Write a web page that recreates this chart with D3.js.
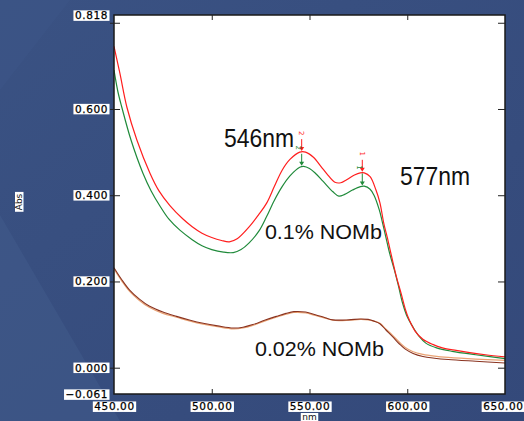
<!DOCTYPE html>
<html><head><meta charset="utf-8">
<script src="https://cdn.jsdelivr.net/npm/d3@7"></script>
<style>
html,body{margin:0;padding:0;background:#38507f;}
svg{display:block;}
</style></head>
<body>
<svg id="chart" width="524" height="421"></svg>
<script>
// ---- data ----
const redNm   = [450,453,456.6,461.7,468.4,473,478.6,485,490,495,500,505,509,513,519,524,528,532,536,540,545,548,552,556,559,563,566,569,573,576,578,581,584,586,588,590,592,594.5,597,599,601,604,608,613,618,625,632,640,650];
const redAbs  = [0.745,0.683,0.604,0.528,0.451,0.410,0.376,0.346,0.327,0.312,0.302,0.295,0.292,0.299,0.326,0.355,0.381,0.420,0.458,0.483,0.500,0.500,0.488,0.466,0.449,0.430,0.429,0.436,0.447,0.452,0.452,0.443,0.412,0.383,0.335,0.298,0.258,0.210,0.170,0.136,0.111,0.085,0.066,0.054,0.046,0.040,0.035,0.030,0.025];
const greenNm = [450,452,454,458.7,464.8,469,473.5,478,483.7,490,495,500,506,511,515,519,524,528,532,536,540,545,547,550,553,557,562,565,568,572,576,578,581,583,585.7,587,589,591,593.4,595.5,597.6,600,602.7,606,609.5,615,623,635,650];
const greenAbs= [0.690,0.640,0.604,0.528,0.451,0.410,0.375,0.345,0.319,0.297,0.283,0.274,0.268,0.267,0.274,0.289,0.316,0.350,0.388,0.420,0.445,0.465,0.467,0.462,0.451,0.432,0.408,0.398,0.402,0.412,0.420,0.421,0.414,0.400,0.366,0.343,0.304,0.265,0.227,0.190,0.150,0.118,0.096,0.073,0.057,0.046,0.038,0.030,0.021];
const lowNm   = [450,454,458,463,468,475,482,489,495.6,503,511,516,521,527,533,538,542,548,553,558,562,570,576,580,583,586,589,592.5,596,599,603,608,614,621,635,650];
const brownAbs= [0.232,0.204,0.180,0.159,0.143,0.129,0.119,0.110,0.103,0.097,0.092,0.094,0.100,0.110,0.119,0.126,0.130,0.129,0.123,0.116,0.111,0.111,0.113,0.112,0.108,0.102,0.088,0.072,0.055,0.043,0.033,0.026,0.022,0.019,0.015,0.011];
const tanAbs  = [0.229,0.201,0.177,0.156,0.140,0.126,0.117,0.108,0.101,0.095,0.090,0.092,0.098,0.108,0.117,0.124,0.128,0.127,0.121,0.115,0.110,0.110,0.112,0.111,0.108,0.103,0.090,0.075,0.059,0.047,0.037,0.031,0.027,0.024,0.020,0.017];
const yTickVals = [-0.061,0,0.2,0.4,0.6,0.8,0.818];
const xTickVals = [450,500,550,600,650];
const peakNm = [577,546];
const peakLabels = ["1","2"];
const annotations = [
  {text:"546nm", nm:506.3, v:0.512, size:26, len:70},
  {text:"577nm", nm:596.3, v:0.424, size:25, len:70},
  {text:"0.1% NOMb", nm:527.2, v:0.299, size:21, len:117},
  {text:"0.02% NOMb", nm:522.1, v:0.028, size:21, len:129}
];

// ---- layout ----
const W=524,H=421;
const svg=d3.select("#chart");
const xs=d3.scaleLinear().domain([450,650]).range([114,505]);
const ys=d3.scaleLinear().domain([-0.061,0.818]).range([394,15]);

// background
const defs=svg.append("defs");
const grad=defs.append("linearGradient").attr("id","bg").attr("x1","0").attr("y1","0").attr("x2","1").attr("y2","1");
grad.append("stop").attr("offset","0").attr("stop-color","#3a5283");
grad.append("stop").attr("offset","1").attr("stop-color","#34497a");
svg.append("rect").attr("width",W).attr("height",H).attr("fill","url(#bg)");
svg.append("path").attr("d","M0,215 L120,421 L0,421 Z").attr("fill","#425b8c").attr("opacity",0.5);
svg.append("path").attr("d","M0,0 L70,0 L0,90 Z").attr("fill","#3f578a").attr("opacity",0.4);

// plot area
svg.append("rect").attr("x",xs(450)).attr("y",ys(0.818)).attr("width",xs(650)-xs(450)).attr("height",ys(-0.061)-ys(0.818))
  .attr("fill","#ffffff");

// lines
const lineOf=(nms,vs)=>d3.line().x((d,i)=>xs(nms[i])).y(d=>ys(d)).curve(d3.curveCatmullRom.alpha(0.5))(vs);
const plot=svg.append("g");
plot.append("path").attr("d",lineOf(lowNm,tanAbs)).attr("fill","none").attr("stroke","#e9a273").attr("stroke-width",1.2);
plot.append("path").attr("d",lineOf(lowNm,brownAbs)).attr("fill","none").attr("stroke","#8a3320").attr("stroke-width",1.1);
plot.append("path").attr("d",lineOf(greenNm,greenAbs)).attr("fill","none").attr("stroke","#1f8a3a").attr("stroke-width",1.2);
plot.append("path").attr("d",lineOf(redNm,redAbs)).attr("fill","none").attr("stroke","#ff1e1e").attr("stroke-width",1.2);

// peak markers
const interp=(nms,vs,n)=>{for(let i=1;i<nms.length;i++){if(nms[i]>=n){const t=(n-nms[i-1])/(nms[i]-nms[i-1]);return vs[i-1]+t*(vs[i]-vs[i-1]);}}return vs[vs.length-1];};
[[redNm,redAbs,"#ff1e1e",0],[greenNm,greenAbs,"#1f8a3a",-3]].forEach(([nms,vs,c,dx])=>{
  peakNm.forEach((n,k)=>{
    const px=xs(n), py=ys(interp(nms,vs,n));
    plot.append("line").attr("x1",px).attr("x2",px).attr("y1",py-13).attr("y2",py-3).attr("stroke",c).attr("stroke-width",1);
    plot.append("path").attr("d",`M${px-2.5},${py-5} L${px+2.5},${py-5} L${px},${py-1} Z`).attr("fill",c);
    plot.append("text").attr("transform",`translate(${px+dx},${py-19}) rotate(90)`).attr("text-anchor","middle").attr("dy","0.35em")
      .attr("font-family","DejaVu Sans").attr("font-size",7).attr("fill",c).text(peakLabels[k]);
  });
});

// frame
svg.append("rect").attr("x",xs(450)).attr("y",ys(0.818)).attr("width",xs(650)-xs(450)).attr("height",ys(-0.061)-ys(0.818))
  .attr("fill","none").attr("stroke","#1a1a1a").attr("stroke-width",1.5);

// annotations
annotations.forEach(a=>{
  svg.append("text").attr("x",xs(a.nm)).attr("y",ys(a.v)).attr("font-family","Liberation Sans, Arial, sans-serif")
    .attr("font-size",a.size).attr("fill","#111").attr("textLength",a.len).attr("lengthAdjust","spacingAndGlyphs").text(a.text);
});

// axes
const fmtY=d=> d===0.8?"": (d<0? "\u2212"+d3.format(".3f")(-d) : d3.format(".3f")(d));
const axLeft=svg.append("g").attr("transform",`translate(${xs(450)},0)`)
  .call(d3.axisLeft(ys).tickValues(yTickVals).tickSize(4).tickPadding(2).tickFormat(fmtY));
axLeft.select(".domain").remove();
axLeft.selectAll(".tick").each(function(d){
  const t=d3.select(this);
  if(d===-0.061||d===0.818) t.select("line").remove();
  else t.select("line").attr("x1",-4).attr("x2",6).attr("stroke","#222");
});
axLeft.selectAll(".tick").filter(d=>d===0.818).attr("transform",`translate(0,${ys(0.818)+1})`);
axLeft.selectAll(".tick").filter(d=>d===-0.061).attr("transform",`translate(0,${ys(-0.061)+1})`);

const axRight=svg.append("g").attr("transform",`translate(${xs(650)},0)`)
  .call(d3.axisLeft(ys).tickValues([0,0.2,0.4,0.6,0.8]).tickSize(7).tickFormat(""));
axRight.select(".domain").remove();
axRight.selectAll(".tick line").attr("x2",-7).attr("stroke","#222");

const axBottom=svg.append("g").attr("transform",`translate(0,${ys(-0.061)})`)
  .call(d3.axisBottom(xs).tickValues(xTickVals).tickSize(0).tickPadding(9).tickFormat(d3.format(".2f")));
axBottom.select(".domain").remove();
axBottom.selectAll(".tick").filter(d=>d>450&&d<650).append("line").attr("y1",0).attr("y2",-5).attr("stroke","#222");
axBottom.selectAll(".tick").filter(d=>d===650).select("text").attr("text-anchor","end").attr("x",18);

const axTop=svg.append("g").attr("transform",`translate(0,${ys(0.818)})`)
  .call(d3.axisTop(xs).tickValues([500,550,600]).tickSize(0).tickFormat(""));
axTop.select(".domain").remove();
axTop.selectAll(".tick").append("line").attr("y1",0).attr("y2",5).attr("stroke","#222");

svg.selectAll(".tick text").attr("font-family","DejaVu Sans, Verdana, sans-serif").attr("font-size",10.5)
  .attr("letter-spacing",0.6).attr("fill","#000").attr("stroke","#000").attr("stroke-width",0.25);

// axis titles
svg.append("text").attr("class","lbl").attr("x",xs(550)).attr("y",420).attr("text-anchor","middle")
  .attr("font-family","DejaVu Sans, sans-serif").attr("font-size",9).attr("fill","#111").text("nm");
svg.append("text").attr("class","lbl").attr("transform","translate(22,202) rotate(-90)").attr("text-anchor","middle")
  .attr("font-family","DejaVu Sans, sans-serif").attr("font-size",9).attr("fill","#111").text("Abs");

// white label boxes
svg.selectAll(".tick text, text.lbl").each(function(){
  if(!this.textContent) return;
  const b=this.getBBox();
  const p=this.parentNode;
  const tr=this.getAttribute("transform");
  d3.select(p).insert("rect",()=>this).attr("x",b.x-1.5).attr("y",b.y+1).attr("width",b.width+3).attr("height",b.height-1.5)
    .attr("fill","#ffffff").attr("transform",tr);
});
</script>
</body></html>
